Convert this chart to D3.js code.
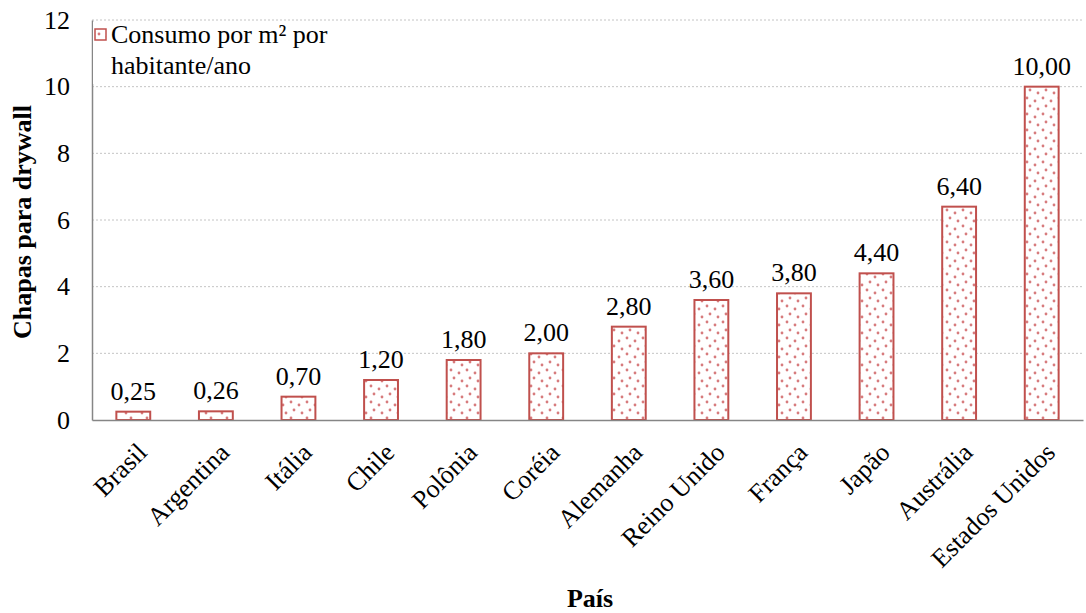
<!DOCTYPE html>
<html>
<head>
<meta charset="utf-8">
<script src="https://cdn.jsdelivr.net/npm/d3@7"></script>
<style>
  html, body { margin: 0; padding: 0; background: #fff; }
  svg { display: block; }
  svg text { font-family: "Liberation Serif", "Times New Roman", serif; }
</style>
</head>
<body>
<svg id="chart" width="1086" height="613"></svg>
<script>
// Consumo de chapas para drywall por país
const countries = ["Brasil", "Argentina", "Itália", "Chile", "Polônia", "Coréia",
  "Alemanha", "Reino Unido", "França", "Japão", "Austrália", "Estados Unidos"];
const consumption = [0.25, 0.26, 0.70, 1.20, 1.80, 2.00, 2.80, 3.60, 3.80, 4.40, 6.40, 10.00];
const yTicks = [0, 2, 4, 6, 8, 10, 12];
const seriesName = ["Consumo por m² por", "habitante/ano"];

const serif = "Liberation Serif, serif";
const svg = d3.select("#chart").attr("font-family", serif);
const margin = { left: 92, right: 3, top: 20, bottom: 193 };
const W = 1086, H = 613;
const FS = 26;
const x = d3.scaleBand().domain(countries).range([margin.left, W - margin.right]).paddingInner(0.59).paddingOuter(0.295);
const y = d3.scaleLinear().domain([0, 12]).range([H - margin.bottom, margin.top]);

const red = "#c0504d";
const dotColor = "#d77b7d";
const defs = svg.append("defs");
const pat = defs.append("pattern").attr("id", "dots").attr("patternUnits", "userSpaceOnUse")
  .attr("width", 16).attr("height", 16);
pat.append("rect").attr("width", 16).attr("height", 16).attr("fill", "#fff");
[[3, 2], [11, 5], [6, 10], [14, 13]].forEach(([cx, cy]) =>
  pat.append("circle").attr("cx", cx).attr("cy", cy).attr("r", 1.4).attr("fill", dotColor));

// grid lines
svg.append("g").selectAll("line").data(yTicks.filter(d => d > 0)).join("line")
  .attr("x1", margin.left).attr("x2", W - margin.right)
  .attr("y1", d => y(d)).attr("y2", d => y(d))
  .attr("stroke", "#c4c4c4").attr("stroke-width", 1).attr("stroke-dasharray", "2,2");

// y axis
const yAxis = svg.append("g").attr("transform", `translate(${margin.left},0)`)
  .call(d3.axisLeft(y).tickValues(yTicks).tickSize(0).tickPadding(22).tickFormat(d3.format("d")));
yAxis.attr("font-family", serif);
yAxis.select(".domain").attr("stroke", "#868686").attr("stroke-width", 1.5);
yAxis.selectAll("text").attr("font-size", FS).attr("fill", "#000").attr("font-family", serif);

// bars
svg.append("g").selectAll("rect").data(countries).join("rect")
  .attr("x", d => x(d)).attr("width", x.bandwidth())
  .attr("y", (d, i) => y(consumption[i]))
  .attr("height", (d, i) => y(0) - y(consumption[i]))
  .attr("fill", "url(#dots)").attr("stroke", red).attr("stroke-width", 2);

// value labels
const fmt = v => v.toFixed(2).replace(".", ",");
svg.append("g").selectAll("text").data(countries).join("text")
  .attr("x", d => x(d) + x.bandwidth() / 2)
  .attr("y", (d, i) => y(consumption[i]) - 12)
  .attr("text-anchor", "middle").attr("font-size", FS).attr("fill", "#000")
  .attr("font-family", serif)
  .text((d, i) => fmt(consumption[i]));

// x axis
const xAxis = svg.append("g").attr("transform", `translate(0,${y(0)})`)
  .call(d3.axisBottom(x).tickSize(0).tickPadding(0));
xAxis.attr("font-family", serif);
xAxis.select(".domain").attr("stroke", "#868686").attr("stroke-width", 1.5);
xAxis.selectAll("text").attr("font-size", FS).attr("fill", "#000").attr("font-family", serif)
  .attr("text-anchor", "end").attr("dy", 0).attr("y", 0)
  .attr("transform", "translate(15,34) rotate(-45)");

// axis titles
svg.append("text").attr("x", 590).attr("y", 607).attr("text-anchor", "middle")
  .attr("font-family", serif).attr("font-size", FS).attr("font-weight", "bold").text("País");
svg.append("text").attr("transform", `translate(31,${(margin.top + y(0)) / 2 + 2}) rotate(-90)`)
  .attr("text-anchor", "middle").attr("font-family", serif).attr("font-size", FS)
  .attr("font-weight", "bold").text("Chapas para drywall");

// legend
const lg = svg.append("g");
lg.append("rect").attr("x", margin.left + 1).attr("y", 22).attr("width", 250).attr("height", 62).attr("fill", "#fff");
lg.append("rect").attr("x", 95).attr("y", 29).attr("width", 11).attr("height", 11)
  .attr("fill", "url(#dots)").attr("stroke", red).attr("stroke-width", 1.5);
lg.append("text").attr("font-family", serif).attr("font-size", FS)
  .selectAll("tspan").data(seriesName).join("tspan")
  .attr("x", 111).attr("y", (d, i) => 43 + i * 31).text(d => d);
</script>
</body>
</html>
